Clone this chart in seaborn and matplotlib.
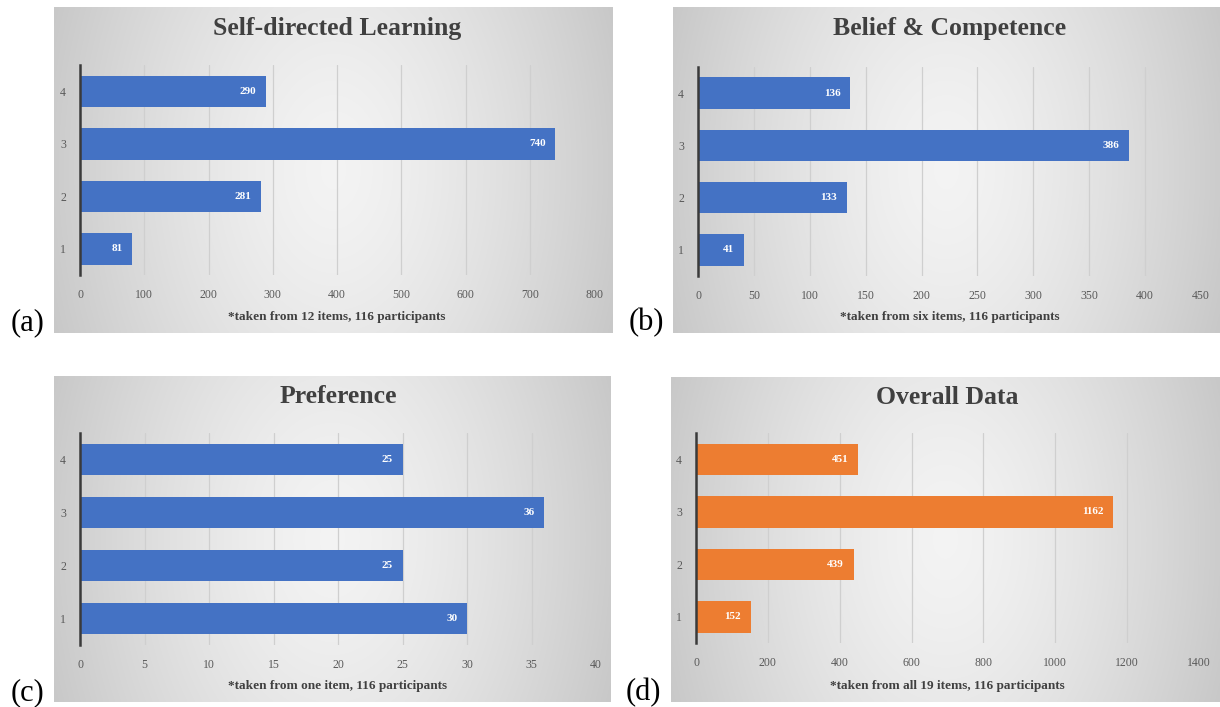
import numpy as np
import matplotlib
matplotlib.use("Agg")
import matplotlib.pyplot as plt
import seaborn as sns
import pandas as pd

# Response level counts per survey section
levels = ["4", "3", "2", "1"]
self_directed = [290, 740, 281, 81]
belief_competence = [136, 386, 133, 41]
preference = [25, 36, 25, 30]
overall = [451, 1162, 439, 152]

titles = ["Self-directed Learning", "Belief & Competence", "Preference", "Overall Data"]
notes = [
    "*taken from 12 items, 116 participants",
    "*taken from six items, 116 participants",
    "*taken from one item, 116 participants",
    "*taken from all 19 items, 116 participants",
]
panel_tags = ["(a)", "(b)", "(c)", "(d)"]
x_ticks = [
    list(range(0, 801, 100)),
    list(range(0, 451, 50)),
    list(range(0, 41, 5)),
    list(range(0, 1401, 200)),
]

BLUE = "#4472C4"
ORANGE = "#ED7D31"

sns.set_theme(style="white")
plt.rcParams["font.family"] = ["Liberation Serif", "DejaVu Serif"]

W, H = 1220, 707
fig = plt.figure(figsize=(W / 100, H / 100), dpi=100)
fig.patch.set_facecolor("white")


def rect(x0, y0, x1, y1):
    return [x0 / W, 1 - y1 / H, (x1 - x0) / W, (y1 - y0) / H]


# layout in pixels: panel box, plot area, tag position
layout = [
    dict(box=(54, 7, 613, 333), plot=(80, 65, 594, 275), tag=(28, 323)),
    dict(box=(673, 7, 1220, 333), plot=(698, 67, 1201, 276), tag=(646, 323)),
    dict(box=(54, 376, 611, 702), plot=(80, 433, 596, 645), tag=(28, 693)),
    dict(box=(671, 377, 1220, 702), plot=(696, 433, 1199, 643), tag=(643, 693)),
]

series = [self_directed, belief_competence, preference, overall]
colors = [BLUE, BLUE, BLUE, ORANGE]

# soft radial backdrop used behind each chart
gy, gx = np.mgrid[-1:1:200j, -1:1:320j]
dist = np.sqrt(gx ** 2 + 0.15 * gy ** 2) / np.sqrt(1.15)
shade = np.clip(0.955 - 0.17 * dist ** 1.4, 0, 1)
backdrop = np.dstack([shade, shade, shade])

for i in range(4):
    lay = layout[i]
    bx = fig.add_axes(rect(*lay["box"]), zorder=0)
    bx.imshow(backdrop, aspect="auto", extent=[0, 1, 0, 1], interpolation="bilinear")
    bx.set_axis_off()

    ax = fig.add_axes(rect(*lay["plot"]), zorder=1)
    ax.set_facecolor("none")
    df = pd.DataFrame({"level": levels, "count": series[i]})
    sns.barplot(data=df, x="count", y="level", order=levels, orient="h",
                color=colors[i], saturation=1, width=0.6, linewidth=0, ax=ax)
    ticks = x_ticks[i]
    ax.set_xlim(ticks[0], ticks[-1])
    ax.set_xticks(ticks)
    ax.set_xticklabels([str(t) for t in ticks])
    ax.set_xlabel("")
    ax.set_ylabel("")
    ax.xaxis.grid(True, color="#cfcfcf", linewidth=0.9)
    ax.yaxis.grid(False)
    ax.set_axisbelow(True)
    for s in ["top", "right", "bottom"]:
        ax.spines[s].set_visible(False)
    ax.spines["left"].set_color("#3a3a3a")
    ax.spines["left"].set_linewidth(1.8)
    ax.spines["left"].set_zorder(3)
    ax.tick_params(axis="x", length=0, pad=10, labelsize=8.5, labelcolor="#595959")
    ax.tick_params(axis="y", length=0, pad=10, labelsize=8.5, labelcolor="#595959")

    for pos, v in enumerate(series[i]):
        ax.annotate(str(v), xy=(v, pos), xytext=(-7, 0), textcoords="offset points",
                    ha="right", va="center", color="white", fontsize=8,
                    fontweight="bold", zorder=4)

    x0, y0, x1, y1 = lay["box"]
    px0, _, px1, py1 = lay["plot"]
    cx = (px0 + px1) / 2
    fig.text(cx / W, 1 - (y0 + 21) / H, titles[i], ha="center", va="center",
             fontsize=18.5, fontweight="bold", color="#404040", zorder=5)
    fig.text(cx / W, 1 - (y1 - 16) / H, notes[i], ha="center", va="center",
             fontsize=9.5, fontweight="bold", color="#404040", zorder=5)
    tx, ty = lay["tag"]
    fig.text(tx / W, 1 - ty / H, panel_tags[i], ha="center", va="center",
             fontsize=22, color="black")

fig.savefig("out.png", dpi=100)
